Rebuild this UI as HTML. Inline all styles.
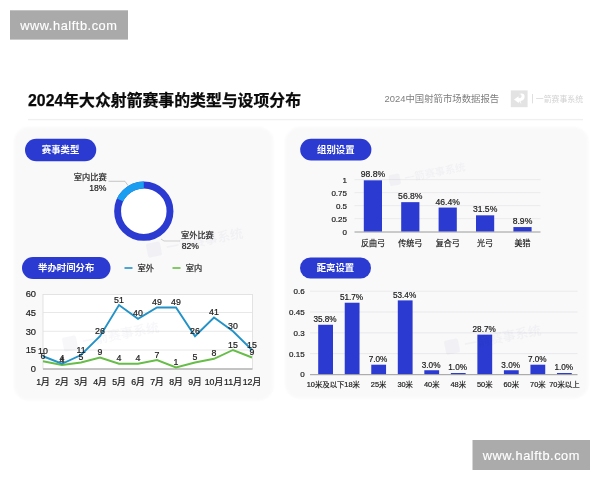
<!DOCTYPE html>
<html lang="zh-CN">
<head>
<meta charset="utf-8">
<title>2024年大众射箭赛事的类型与设项分布</title>
<style>
html,body{margin:0;padding:0;background:#fff;}
body{width:600px;height:480px;overflow:hidden;position:relative;font-family:"Liberation Sans","Noto Sans CJK SC",sans-serif;}
svg{position:absolute;left:0;top:0;display:block;}
text{font-family:"Liberation Sans","Noto Sans CJK SC",sans-serif;}
.ttl{font-weight:bold;font-size:16.4px;fill:#0a0a0a;stroke:#0a0a0a;stroke-width:0.25px;}
.pill{font-weight:bold;font-size:9.4px;fill:#fff;}
.ax{font-size:9.3px;fill:#1c1c1c;stroke:#1c1c1c;stroke-width:0.2px;}
.ax2{font-size:8px;fill:#1c1c1c;stroke:#1c1c1c;stroke-width:0.2px;}
.dl{font-size:8.8px;fill:#1c1c1c;stroke:#1c1c1c;stroke-width:0.2px;}
.vl{font-size:8.6px;fill:#1c1c1c;stroke:#1c1c1c;stroke-width:0.2px;}
.xl{font-size:8.8px;fill:#1c1c1c;stroke:#1c1c1c;stroke-width:0.2px;}
.xl2{font-size:8px;fill:#1c1c1c;stroke:#1c1c1c;stroke-width:0.2px;}
.xl3{font-size:7.4px;fill:#1c1c1c;stroke:#1c1c1c;stroke-width:0.2px;}
.lab{font-size:8.2px;fill:#1c1c1c;stroke:#1c1c1c;stroke-width:0.2px;}
.wm{font-size:12.8px;fill:#fff;letter-spacing:0.55px;stroke:#fff;stroke-width:0.15px;}
.fw{font-size:9px;fill:#e9eaf0;font-weight:bold;}
</style>
</head>
<body>
<svg width="600" height="480" viewBox="0 0 600 480">

<defs><filter id="soft" x="-5%" y="-5%" width="110%" height="110%"><feGaussianBlur stdDeviation="1.1"/></filter></defs>
<g filter="url(#soft)"><rect x="14" y="127" width="259.5" height="273.5" rx="15" fill="#f9f9fa"/>
<rect x="285" y="127" width="303.5" height="271.5" rx="15" fill="#f9f9fa"/></g>
<rect x="10" y="10.3" width="118" height="29.3" fill="#aaaaaa"/>
<text class="wm" x="20.2" y="29.6">www.halftb.com</text>
<rect x="472.5" y="440" width="117.5" height="30" fill="#ababab"/>
<text class="wm" x="482.7" y="459.6">www.halftb.com</text>
<text class="ttl" x="28" y="106.4" textLength="273" lengthAdjust="spacingAndGlyphs">2024年大众射箭赛事的类型与设项分布</text>
<text x="384.6" y="101.8" font-size="9.4" fill="#7e7e7e">2024中国射箭市场数据报告</text>
<rect x="510.8" y="90.4" width="16.8" height="16.8" fill="#e3e3e3"/>
<path d="M514 99.6 L518.6 96.2 L518.6 98.2 Q521.6 98.2 521.6 96 Q521.6 93.8 518.8 94 Q524.6 92.4 524.6 96.6 Q524.6 100.6 520.6 101 L521.4 104.6 L519.4 101.2 L518.6 103 Z" fill="#fff"/>
<rect x="532.2" y="94" width="0.8" height="9.4" fill="#d8d8d8"/>
<text x="535.8" y="101.6" font-size="7.9" fill="#d2d2d2">一箭赛事系统</text>
<rect x="28" y="118.9" width="555" height="1.4" fill="#f0f0f0"/>
<rect x="25" y="138.75" width="71.25" height="22.50" rx="11.25" fill="#2b3ad0"/>
<text class="pill" x="60.62" y="153.40" text-anchor="middle">赛事类型</text>
<rect x="22" y="257" width="88.50" height="22.00" rx="11.00" fill="#2b3ad0"/>
<text class="pill" x="66.25" y="271.40" text-anchor="middle">举办时间分布</text>
<rect x="300.2" y="138.75" width="71.20" height="21.75" rx="10.88" fill="#2b3ad0"/>
<text class="pill" x="335.80" y="153.00" text-anchor="middle">组别设置</text>
<rect x="300" y="257.5" width="71.00" height="21.00" rx="10.50" fill="#2b3ad0"/>
<text class="pill" x="335.50" y="271.40" text-anchor="middle">距离设置</text>
<circle cx="143.8" cy="211.2" r="26.2" fill="#fff" stroke="#2b3ad0" stroke-width="6.9"/>
<path d="M143.8 185.0 A26.2 26.2 0 0 0 120.09 200.04" fill="none" stroke="#1a9ff0" stroke-width="6.9"/>
<path d="M108.5 181.3 L125 181.3 L128 185.5" fill="none" stroke="#b0b0b0" stroke-width="0.7"/>
<path d="M161 239 L164 241 L180 241" fill="none" stroke="#bbb" stroke-width="0.7"/>
<text class="lab" x="106.6" y="180" text-anchor="end">室内比赛</text>
<text class="lab" x="106.4" y="190.8" text-anchor="end" style="font-size:8.6px">18%</text>
<text class="lab" x="181" y="237.5">室外比赛</text>
<text class="lab" x="181.7" y="249.3" style="font-size:8.6px">82%</text>
<rect x="124.5" y="267.2" width="8" height="1.6" fill="#2292c7"/>
<text class="lab" x="137.5" y="271">室外</text>
<rect x="172.5" y="267.2" width="8" height="1.6" fill="#66bd47"/>
<text class="lab" x="185.7" y="271">室内</text>
<rect x="43" y="294.5" width="209.5" height="74.25" fill="#fff" stroke="#dcdcdc" stroke-width="0.8"/>
<line x1="43" x2="252.5" y1="312.5" y2="312.5" stroke="#e2e2e2" stroke-width="0.8"/>
<line x1="43" x2="252.5" y1="331.25" y2="331.25" stroke="#e2e2e2" stroke-width="0.8"/>
<line x1="43" x2="252.5" y1="350.0" y2="350.0" stroke="#e2e2e2" stroke-width="0.8"/>
<line x1="43" x2="252.5" y1="369.05" y2="369.05" stroke="#9a9a9a" stroke-width="1"/>
<text class="ax" x="36" y="297.05" text-anchor="end">60</text>
<text class="ax" x="36" y="315.80" text-anchor="end">45</text>
<text class="ax" x="36" y="334.55" text-anchor="end">30</text>
<text class="ax" x="36" y="353.30" text-anchor="end">15</text>
<text class="ax" x="36" y="372.05" text-anchor="end">0</text>
<polyline points="43.00,361.25 62.00,365.00 81.00,362.50 100.00,357.50 119.00,363.75 138.00,363.75 157.00,360.00 176.00,367.50 195.00,362.50 214.00,358.75 233.00,350.00 252.00,357.50" fill="none" stroke="#66bd47" stroke-width="1.9" stroke-linejoin="miter"/>
<polyline points="43.00,356.25 62.00,363.75 81.00,355.00 100.00,336.25 119.00,305.00 138.00,318.75 157.00,307.50 176.00,307.50 195.00,336.25 214.00,317.50 233.00,331.25 252.00,350.00" fill="none" stroke="#2292c7" stroke-width="1.9" stroke-linejoin="miter"/>
<text class="dl" x="43.00" y="353.95" text-anchor="middle">10</text>
<text class="dl" x="62.00" y="361.45" text-anchor="middle">4</text>
<text class="dl" x="81.00" y="352.70" text-anchor="middle">11</text>
<text class="dl" x="100.00" y="333.95" text-anchor="middle">26</text>
<text class="dl" x="119.00" y="302.70" text-anchor="middle">51</text>
<text class="dl" x="138.00" y="316.45" text-anchor="middle">40</text>
<text class="dl" x="157.00" y="305.20" text-anchor="middle">49</text>
<text class="dl" x="176.00" y="305.20" text-anchor="middle">49</text>
<text class="dl" x="195.00" y="333.95" text-anchor="middle">26</text>
<text class="dl" x="214.00" y="315.20" text-anchor="middle">41</text>
<text class="dl" x="233.00" y="328.95" text-anchor="middle">30</text>
<text class="dl" x="252.00" y="347.70" text-anchor="middle">15</text>
<text class="dl" x="43.00" y="358.95" text-anchor="middle">6</text>
<text class="dl" x="62.00" y="362.70" text-anchor="middle">4</text>
<text class="dl" x="81.00" y="360.20" text-anchor="middle">5</text>
<text class="dl" x="100.00" y="355.20" text-anchor="middle">9</text>
<text class="dl" x="119.00" y="361.45" text-anchor="middle">4</text>
<text class="dl" x="138.00" y="361.45" text-anchor="middle">4</text>
<text class="dl" x="157.00" y="357.70" text-anchor="middle">7</text>
<text class="dl" x="176.00" y="365.20" text-anchor="middle">1</text>
<text class="dl" x="195.00" y="360.20" text-anchor="middle">5</text>
<text class="dl" x="214.00" y="356.45" text-anchor="middle">8</text>
<text class="dl" x="233.00" y="347.70" text-anchor="middle">15</text>
<text class="dl" x="252.00" y="355.20" text-anchor="middle">9</text>
<text class="xl" x="43.00" y="385" text-anchor="middle">1月</text>
<text class="xl" x="62.00" y="385" text-anchor="middle">2月</text>
<text class="xl" x="81.00" y="385" text-anchor="middle">3月</text>
<text class="xl" x="100.00" y="385" text-anchor="middle">4月</text>
<text class="xl" x="119.00" y="385" text-anchor="middle">5月</text>
<text class="xl" x="138.00" y="385" text-anchor="middle">6月</text>
<text class="xl" x="157.00" y="385" text-anchor="middle">7月</text>
<text class="xl" x="176.00" y="385" text-anchor="middle">8月</text>
<text class="xl" x="195.00" y="385" text-anchor="middle">9月</text>
<text class="xl" x="214.00" y="385" text-anchor="middle">10月</text>
<text class="xl" x="233.00" y="385" text-anchor="middle">11月</text>
<text class="xl" x="252.00" y="385" text-anchor="middle">12月</text>
<line x1="354.5" x2="540.5" y1="179.7" y2="179.7" stroke="#e6e6e8" stroke-width="0.8"/>
<line x1="354.5" x2="540.5" y1="192.7" y2="192.7" stroke="#e6e6e8" stroke-width="0.8"/>
<line x1="354.5" x2="540.5" y1="205.7" y2="205.7" stroke="#e6e6e8" stroke-width="0.8"/>
<line x1="354.5" x2="540.5" y1="218.7" y2="218.7" stroke="#e6e6e8" stroke-width="0.8"/>
<text class="ax2" x="347" y="182.60" text-anchor="end">1</text>
<text class="ax2" x="347" y="195.60" text-anchor="end">0.75</text>
<text class="ax2" x="347" y="208.60" text-anchor="end">0.5</text>
<text class="ax2" x="347" y="221.60" text-anchor="end">0.25</text>
<text class="ax2" x="347" y="234.60" text-anchor="end">0</text>
<rect x="363.80" y="180.32" width="18.2" height="51.38" fill="#2b3ad0"/>
<text class="vl" x="372.90" y="177.42" text-anchor="middle">98.8%</text>
<text class="xl2" x="372.90" y="246.2" text-anchor="middle">反曲弓</text>
<rect x="401.20" y="202.16" width="18.2" height="29.54" fill="#2b3ad0"/>
<text class="vl" x="410.30" y="199.26" text-anchor="middle">56.8%</text>
<text class="xl2" x="410.30" y="246.2" text-anchor="middle">传统弓</text>
<rect x="438.60" y="207.57" width="18.2" height="24.13" fill="#2b3ad0"/>
<text class="vl" x="447.70" y="204.67" text-anchor="middle">46.4%</text>
<text class="xl2" x="447.70" y="246.2" text-anchor="middle">复合弓</text>
<rect x="476.00" y="215.32" width="18.2" height="16.38" fill="#2b3ad0"/>
<text class="vl" x="485.10" y="212.42" text-anchor="middle">31.5%</text>
<text class="xl2" x="485.10" y="246.2" text-anchor="middle">光弓</text>
<rect x="513.40" y="227.07" width="18.2" height="4.63" fill="#2b3ad0"/>
<text class="vl" x="522.50" y="224.17" text-anchor="middle">8.9%</text>
<text class="xl2" x="522.50" y="246.2" text-anchor="middle">美猎</text>
<line x1="354.5" x2="540.5" y1="232.0" y2="232.0" stroke="#9a9a9a" stroke-width="1"/>
<line x1="310" x2="577.5" y1="291.24" y2="291.24" stroke="#e6e6e8" stroke-width="0.8"/>
<line x1="310" x2="577.5" y1="312.03" y2="312.03" stroke="#e6e6e8" stroke-width="0.8"/>
<line x1="310" x2="577.5" y1="332.82" y2="332.82" stroke="#e6e6e8" stroke-width="0.8"/>
<line x1="310" x2="577.5" y1="353.61" y2="353.61" stroke="#e6e6e8" stroke-width="0.8"/>
<text class="ax2" x="304.6" y="294.14" text-anchor="end">0.6</text>
<text class="ax2" x="304.6" y="314.93" text-anchor="end">0.45</text>
<text class="ax2" x="304.6" y="335.72" text-anchor="end">0.3</text>
<text class="ax2" x="304.6" y="356.51" text-anchor="end">0.15</text>
<text class="ax2" x="304.6" y="377.30" text-anchor="end">0</text>
<rect x="318.20" y="324.78" width="14.8" height="49.62" fill="#2b3ad0"/>
<text class="vl" style="font-size:8.2px" x="325.00" y="322.18" text-anchor="middle">35.8%</text>
<text class="xl3" x="325.60" y="386.9" text-anchor="middle">10米及以下</text>
<rect x="344.73" y="302.74" width="14.8" height="71.66" fill="#2b3ad0"/>
<text class="vl" style="font-size:8.2px" x="351.53" y="300.14" text-anchor="middle">51.7%</text>
<text class="xl3" x="352.13" y="386.9" text-anchor="middle">18米</text>
<rect x="371.26" y="364.70" width="14.8" height="9.70" fill="#2b3ad0"/>
<text class="vl" style="font-size:8.2px" x="378.06" y="362.10" text-anchor="middle">7.0%</text>
<text class="xl3" x="378.66" y="386.9" text-anchor="middle">25米</text>
<rect x="397.79" y="300.39" width="14.8" height="74.01" fill="#2b3ad0"/>
<text class="vl" style="font-size:8.2px" x="404.59" y="297.79" text-anchor="middle">53.4%</text>
<text class="xl3" x="405.19" y="386.9" text-anchor="middle">30米</text>
<rect x="424.32" y="370.24" width="14.8" height="4.16" fill="#2b3ad0"/>
<text class="vl" style="font-size:8.2px" x="431.12" y="367.64" text-anchor="middle">3.0%</text>
<text class="xl3" x="431.72" y="386.9" text-anchor="middle">40米</text>
<rect x="450.85" y="373.01" width="14.8" height="1.39" fill="#2b3ad0"/>
<text class="vl" style="font-size:8.2px" x="457.65" y="370.41" text-anchor="middle">1.0%</text>
<text class="xl3" x="458.25" y="386.9" text-anchor="middle">48米</text>
<rect x="477.38" y="334.62" width="14.8" height="39.78" fill="#2b3ad0"/>
<text class="vl" style="font-size:8.2px" x="484.18" y="332.02" text-anchor="middle">28.7%</text>
<text class="xl3" x="484.78" y="386.9" text-anchor="middle">50米</text>
<rect x="503.91" y="370.24" width="14.8" height="4.16" fill="#2b3ad0"/>
<text class="vl" style="font-size:8.2px" x="510.71" y="367.64" text-anchor="middle">3.0%</text>
<text class="xl3" x="511.31" y="386.9" text-anchor="middle">60米</text>
<rect x="530.44" y="364.70" width="14.8" height="9.70" fill="#2b3ad0"/>
<text class="vl" style="font-size:8.2px" x="537.24" y="362.10" text-anchor="middle">7.0%</text>
<text class="xl3" x="537.84" y="386.9" text-anchor="middle">70米</text>
<rect x="556.97" y="373.01" width="14.8" height="1.39" fill="#2b3ad0"/>
<text class="vl" style="font-size:8.2px" x="563.77" y="370.41" text-anchor="middle">1.0%</text>
<text class="xl3" x="564.37" y="386.9" text-anchor="middle">70米以上</text>
<line x1="310" x2="577.5" y1="374.7" y2="374.7" stroke="#9a9a9a" stroke-width="1"/>
<g transform="translate(148 256) rotate(-11)" fill="#20306c" opacity="0.032"><rect x="0" y="-12.3" width="14.3" height="14.3" rx="2"/><text x="19.5" y="0" font-size="13" font-weight="bold">一箭赛事系统</text></g>
<g transform="translate(64 350) rotate(-11)" fill="#20306c" opacity="0.032"><rect x="0" y="-12.3" width="14.3" height="14.3" rx="2"/><text x="19.5" y="0" font-size="13" font-weight="bold">一箭赛事系统</text></g>
<g transform="translate(390 185) rotate(-11)" fill="#20306c" opacity="0.032"><rect x="0" y="-9.8" width="11.3" height="11.3" rx="2"/><text x="15.5" y="0" font-size="10.3" font-weight="bold">一箭赛事系统</text></g>
<g transform="translate(446 353) rotate(-11)" fill="#20306c" opacity="0.032"><rect x="0" y="-12.3" width="14.3" height="14.3" rx="2"/><text x="19.5" y="0" font-size="13" font-weight="bold">一箭赛事系统</text></g>
</svg>
</body>
</html>
